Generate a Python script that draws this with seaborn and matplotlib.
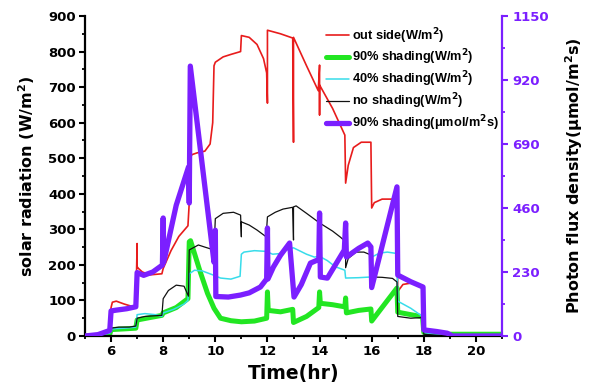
import numpy as np
import pandas as pd
import seaborn as sns
import matplotlib
matplotlib.use("Agg")
import matplotlib.pyplot as plt
from matplotlib.ticker import MultipleLocator, FixedLocator

# ---------------- data ----------------
red_t = [5, 5.5, 5.95, 6.0, 6.05, 6.2, 6.5, 6.95, 7.0, 7.0, 7.05, 7.2, 7.5, 7.95, 8.0, 8.3, 8.6,
         8.95, 9.0, 9.0, 9.1, 9.3, 9.6, 9.8, 9.9, 9.95, 10.0, 10.3, 10.6, 10.97, 11.0, 11.3, 11.6,
         11.85, 11.97, 12.0, 12.0, 12.5, 12.97, 13.0, 13.0, 13.5, 13.95, 14.0, 14.0, 14.0, 14.5,
         14.97, 15.0, 15.1, 15.3, 15.6, 15.97, 16.0, 16.1, 16.4, 16.8, 16.97, 17.0, 17.2, 17.6,
         17.95, 18.0, 18.5, 19.0, 21.0]
red_v = [0, 3, 15, 80, 95, 98, 90, 80, 260, 195, 190, 180, 172, 175, 190, 240, 280,
         310, 375, 495, 510, 515, 520, 540, 600, 760, 770, 785, 792, 800, 845, 840, 820,
         780, 740, 655, 860, 850, 838, 545, 840, 760, 690, 762, 622, 706, 640,
         565, 430, 480, 530, 545, 545, 360, 375, 385, 385, 370, 125, 145, 150,
         140, 20, 8, 0, 0]

green_t = [5, 5.5, 5.95, 6.0, 6.5, 6.95, 7.0, 7.5, 7.95, 8.0, 8.5, 8.95, 9.0, 9.05, 9.4, 9.7,
           9.95, 10.2, 10.6, 11.0, 11.5, 11.97, 12.0, 12.03, 12.5, 12.97, 13.0, 13.5, 13.97,
           14.0, 14.03, 14.5, 14.97, 15.0, 15.03, 15.5, 15.97, 16.0, 16.5, 16.97, 17.0, 17.5,
           17.95, 18.0, 18.5, 21.0]
green_v = [0, 1, 5, 18, 20, 22, 45, 52, 58, 65, 80, 105, 265, 268, 185, 120,
           78, 50, 43, 40, 42, 50, 124, 72, 68, 75, 38, 55, 80,
           124, 92, 88, 82, 107, 65, 72, 76, 42, 90, 135, 67, 60,
           54, 10, 5, 5]

cyan_t = [5, 5.5, 5.95, 6.0, 6.5, 6.95, 7.0, 7.3, 7.7, 7.95, 8.0, 8.4, 8.8, 8.95, 9.0, 9.2,
          9.5, 9.9, 10.2, 10.6, 10.95, 11.0, 11.1, 11.5, 11.95, 12.2, 12.5, 12.8, 13.0, 13.5,
          13.8, 14.0, 14.3, 14.6, 14.97, 15.0, 15.5, 15.97, 16.0, 16.3, 16.6, 16.97, 17.0,
          17.5, 17.95, 18.0, 18.5, 19.0, 21.0]
cyan_v = [0, 2, 8, 20, 22, 25, 60, 63, 60, 55, 65, 75, 90, 100, 175, 185,
          183, 172, 163, 160, 168, 230, 236, 240, 238, 230, 232, 245, 248, 230,
          222, 224, 212, 195, 185, 163, 164, 166, 222, 233, 236, 232, 98,
          78, 55, 10, 3, 0, 0]

black_t = [5, 5.5, 5.95, 6.0, 6.3, 6.7, 6.95, 7.0, 7.3, 7.7, 7.95, 8.0, 8.2, 8.5, 8.8, 8.97,
           9.0, 9.35, 9.6, 9.95, 10.0, 10.3, 10.7, 10.97, 11.0, 11.0, 11.3, 11.6, 11.95, 12.0,
           12.3, 12.6, 12.97, 13.0, 13.0, 13.1, 13.5, 14.0, 14.5, 14.8, 15.0, 15.0, 15.1,
           15.4, 15.7, 15.97, 16.0, 16.4, 16.8, 16.97, 17.0, 17.5, 17.95, 18.0, 18.5, 19.0, 21.0]
black_v = [0, 3, 12, 22, 25, 25, 28, 50, 55, 57, 58, 105, 128, 143, 140, 112,
           242, 256, 250, 242, 330, 345, 348, 340, 279, 321, 312, 298, 279, 335,
           348, 357, 362, 270, 363, 366, 345, 318, 295, 278, 265, 192, 218,
           236, 236, 228, 166, 165, 162, 152, 55, 50, 52, 5, 2, 0, 0]

purple_t = [5, 5.5, 5.95, 6.0, 6.2, 6.6, 6.95, 7.0, 7.25, 7.6, 7.97, 8.0, 8.02, 8.5, 8.97,
            9.0, 9.04, 9.95, 10.0, 10.02, 10.5, 10.96, 11.3, 11.73, 11.97, 12.0, 12.02, 12.23,
            12.5, 12.85, 13.02, 13.3, 13.65, 13.97, 14.0, 14.03, 14.3, 14.95, 15.0, 15.03,
            15.5, 15.85, 15.97, 16.0, 16.97, 17.0, 17.5, 17.97, 18.0, 18.5, 18.9, 19.1, 21.0]
purple_v = [0, 5, 20, 90, 93, 98, 105, 228, 218, 230, 255, 424, 265, 470, 607,
            478, 970, 265, 380, 142, 140, 147, 155, 176, 205, 388, 205, 248,
            290, 334, 140, 185, 262, 275, 442, 212, 208, 309, 406, 284,
            315, 334, 320, 174, 536, 219, 195, 176, 22, 16, 10, 0, 0]

labels = ["out side(W/m$^{2}$)", "90% shading(W/m$^{2}$)", "40% shading(W/m$^{2}$)",
          "no shading(W/m$^{2}$)", "90% shading(\u03bcmol/m$^{2}$s)"]

# ---------------- styling ----------------
RED = "#e81c1c"
GREEN = "#22e622"
CYAN = "#38dcea"
BLACK = "#111111"
PURPLE = "#7b1fff"

sns.set_theme(style="white")
plt.rcParams["font.family"] = ["DejaVu Sans"]
plt.rcParams["font.weight"] = "bold"
plt.rcParams["mathtext.default"] = "bf"
plt.rcParams["text.color"] = "black"
plt.rcParams["axes.labelcolor"] = "black"
plt.rcParams["xtick.color"] = "black"
plt.rcParams["ytick.color"] = "black"

fig = plt.figure(figsize=(5.89, 3.87), dpi=100)
ax = fig.add_axes([85 / 589, 1 - 336 / 387, (502 - 85) / 589, (336 - 16) / 387])
ax2 = ax.twinx()

def df(t, v):
    return pd.DataFrame({"t": t, "v": v})

sns.lineplot(data=df(red_t, red_v), x="t", y="v", ax=ax, color=RED, lw=1.2,
             estimator=None, sort=False, label=labels[0], legend=False)
sns.lineplot(data=df(green_t, green_v), x="t", y="v", ax=ax, color=GREEN, lw=3.6,
             estimator=None, sort=False, label=labels[1], legend=False)
sns.lineplot(data=df(cyan_t, cyan_v), x="t", y="v", ax=ax, color=CYAN, lw=1.1,
             estimator=None, sort=False, label=labels[2], legend=False)
sns.lineplot(data=df(black_t, black_v), x="t", y="v", ax=ax, color=BLACK, lw=0.9,
             estimator=None, sort=False, label=labels[3], legend=False)
sns.lineplot(data=df(purple_t, purple_v), x="t", y="v", ax=ax2, color=PURPLE, lw=3.8,
             estimator=None, sort=False, label=labels[4], legend=False)

ax.set_xlim(5, 21)
ax.set_ylim(0, 900)
ax2.set_ylim(0, 1150)

ax.xaxis.set_major_locator(FixedLocator([6, 8, 10, 12, 14, 16, 18, 20]))
ax.xaxis.set_minor_locator(MultipleLocator(1))
ax.yaxis.set_major_locator(MultipleLocator(100))
ax.yaxis.set_minor_locator(MultipleLocator(50))
ax2.yaxis.set_major_locator(MultipleLocator(230))
ax2.yaxis.set_minor_locator(MultipleLocator(115))

for a in (ax, ax2):
    a.spines["top"].set_visible(False)
    for s in a.spines.values():
        s.set_linewidth(1.6)
ax.spines["left"].set_color("black")
ax.spines["bottom"].set_color("black")
ax2.spines["right"].set_color(PURPLE)
ax2.spines["left"].set_visible(False)
ax2.spines["bottom"].set_visible(False)
ax.spines["right"].set_visible(False)

ax.tick_params(axis="both", which="major", direction="out", length=4.5, width=1.5,
               labelsize=9.5, colors="black", pad=2, left=True, bottom=True)
ax.tick_params(axis="both", which="minor", direction="out", length=2.5, width=1.3,
               colors="black", left=True, bottom=True)
ax2.tick_params(axis="y", which="major", direction="out", length=4.5, width=1.5,
                labelsize=9.5, colors=PURPLE, pad=3, right=True)
ax2.tick_params(axis="y", which="minor", direction="out", length=2.5, width=1.3,
                colors=PURPLE, right=True)
for lab in ax.get_xticklabels() + ax.get_yticklabels() + ax2.get_yticklabels():
    lab.set_fontweight("bold")

ax.set_xlabel("Time(hr)", fontsize=13.5, fontweight="bold", labelpad=4, color="black")
ax.set_ylabel("solar radiation (W/m$^{2}$)", fontsize=11.5, fontweight="bold", labelpad=8,
              color="black")
ax2.set_ylabel("Photon flux density(\u03bcmol/m$^{2}$s)", fontsize=11.5, fontweight="bold",
               labelpad=10, color="black")

h1, l1 = ax.get_legend_handles_labels()
h2, l2 = ax2.get_legend_handles_labels()
leg = ax2.legend(h1 + h2, l1 + l2, loc="upper left", bbox_to_anchor=(0.565, 0.985),
                 frameon=False, handlelength=1.8, handletextpad=0.25,
                 labelspacing=0.18, borderaxespad=0,
                 prop={"family": ["Liberation Sans", "DejaVu Sans"], "weight": "bold",
                       "size": 9.2})
for txt in leg.get_texts():
    txt.set_color("black")

fig.savefig("out.png", dpi=100)
